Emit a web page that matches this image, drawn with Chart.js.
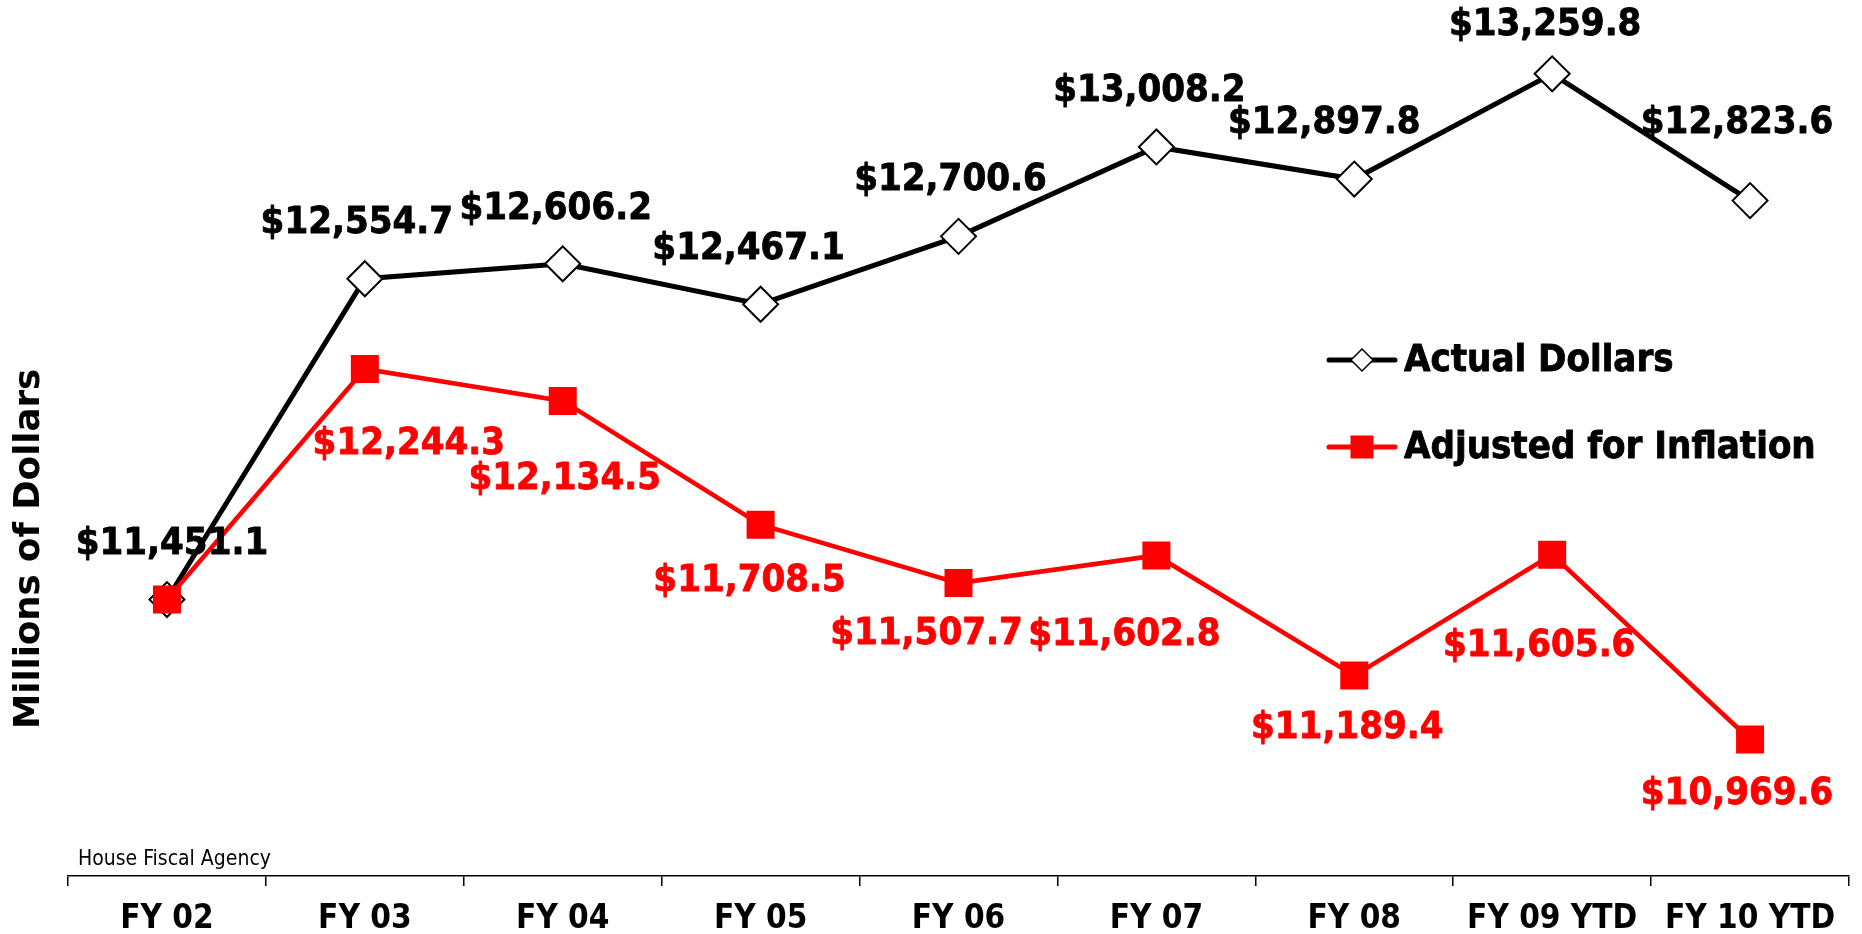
<!DOCTYPE html>
<html>
<head>
<meta charset="utf-8">
<title>General Fund Revenue</title>
<script src="https://cdn.jsdelivr.net/npm/chart.js@4.4.1/dist/chart.umd.min.js"></script>
<style>
  html, body { margin: 0; padding: 0; background: #ffffff; }
  #wrap { width: 1862px; height: 934px; }
</style>
</head>
<body>
<div id="wrap"><canvas id="chart" width="1862" height="934"></canvas></div>
<script>
// Fiscal years on the horizontal axis
const categories = ['FY 02', 'FY 03', 'FY 04', 'FY 05', 'FY 06', 'FY 07', 'FY 08', 'FY 09 YTD', 'FY 10 YTD'];

// Revenue, millions of dollars
const actualDollars = [11451.1, 12554.7, 12606.2, 12467.1, 12700.6, 13008.2, 12897.8, 13259.8, 12823.6];
const adjustedForInflation = [11451.1, 12244.3, 12134.5, 11708.5, 11507.7, 11602.8, 11189.4, 11605.6, 10969.6];

// Series names
const seriesNames = ['Actual Dollars', 'Adjusted for Inflation'];

// Value axis range
const yMin = 10500;
const yMax = 13500;

// Where each value label sits relative to its point (pixels); null = no label
const actualLabelOffsets = [[5, -55], [-8, -56], [-7, -55], [-12, -55], [-8, -56], [-7, -56], [-30, -56], [-7, -49], [-13, -77]];
const adjustedLabelOffsets = [null, [44, 75], [2, 78], [-11, 56], [-32, 51], [-32, 80], [-7, 53], [-13, 91], [-13, 55]];

const BOLD_COND = '"DejaVu Sans Condensed", "DejaVu Sans", sans-serif';
const BLACK = '#000000';
const RED = '#ff0000';

function money(v) {
  return '$' + v.toLocaleString('en-US', { minimumFractionDigits: 1, maximumFractionDigits: 1 });
}

// Value labels next to each marker
const valueLabels = {
  id: 'valueLabels',
  afterDatasetsDraw(chart) {
    const ctx = chart.ctx;
    const sets = [
      { index: 1, offsets: actualLabelOffsets, color: BLACK },
      { index: 0, offsets: adjustedLabelOffsets, color: RED }
    ];
    ctx.save();
    ctx.font = 'bold 38px ' + BOLD_COND;
    ctx.textAlign = 'center';
    ctx.textBaseline = 'middle';
    ctx.lineWidth = 0.8;
    ctx.lineJoin = 'round';
    sets.forEach(s => {
      const meta = chart.getDatasetMeta(s.index);
      const values = chart.data.datasets[s.index].data;
      meta.data.forEach((pt, i) => {
        const off = s.offsets[i];
        if (!off) return;
        ctx.fillStyle = s.color;
        ctx.strokeStyle = s.color;
        const txt = money(values[i]);
        ctx.fillText(txt, pt.x + off[0], pt.y + off[1]);
        ctx.strokeText(txt, pt.x + off[0], pt.y + off[1]);
      });
    });
    ctx.restore();
  }
};

// Legend, axis title and source note
const annotations = {
  id: 'annotations',
  afterDraw(chart) {
    const ctx = chart.ctx;
    ctx.save();

    // legend
    const rows = [
      { name: seriesNames[0], y: 360, color: BLACK, lw: 5, marker: 'diamond' },
      { name: seriesNames[1], y: 447, color: RED, lw: 5, marker: 'square' }
    ];
    rows.forEach(r => {
      ctx.strokeStyle = r.color;
      ctx.lineWidth = r.lw;
      ctx.lineCap = 'round';
      ctx.beginPath();
      ctx.moveTo(1329, r.y);
      ctx.lineTo(1395, r.y);
      ctx.stroke();
      const cx = 1362;
      if (r.marker === 'diamond') {
        const h = 11;
        ctx.beginPath();
        ctx.moveTo(cx, r.y - h);
        ctx.lineTo(cx + h, r.y);
        ctx.lineTo(cx, r.y + h);
        ctx.lineTo(cx - h, r.y);
        ctx.closePath();
        ctx.fillStyle = '#ffffff';
        ctx.fill();
        ctx.lineWidth = 1.5;
        ctx.strokeStyle = BLACK;
        ctx.stroke();
      } else {
        ctx.fillStyle = RED;
        ctx.fillRect(cx - 11.5, r.y - 11.5, 23, 23);
      }
      ctx.fillStyle = BLACK;
      ctx.strokeStyle = BLACK;
      ctx.lineWidth = 0.8;
      ctx.lineJoin = 'round';
      ctx.font = 'bold 38px ' + BOLD_COND;
      ctx.textAlign = 'left';
      ctx.textBaseline = 'middle';
      ctx.fillText(r.name, 1404, r.y + 1);
      ctx.strokeText(r.name, 1404, r.y + 1);
    });

    // vertical axis title
    ctx.save();
    ctx.translate(30, 549);
    ctx.rotate(-Math.PI / 2);
    ctx.font = 'bold 35.5px "DejaVu Sans", sans-serif';
    ctx.fillStyle = BLACK;
    ctx.textAlign = 'center';
    ctx.textBaseline = 'middle';
    ctx.fillText('Millions of Dollars', 0, 0);
    ctx.restore();

    // source note
    ctx.font = '21px "DejaVu Sans Condensed", "DejaVu Sans", sans-serif';
    ctx.fillStyle = BLACK;
    ctx.textAlign = 'left';
    ctx.textBaseline = 'alphabetic';
    ctx.fillText('House Fiscal Agency', 78, 865);

    ctx.restore();
  }
};

new Chart(document.getElementById('chart'), {
  type: 'line',
  data: {
    labels: categories,
    datasets: [
      {
        label: seriesNames[1],
        data: adjustedForInflation,
        order: 1,
        borderColor: RED,
        borderWidth: 4.5,
        tension: 0,
        pointStyle: 'rect',
        pointRadius: 19.8,
        pointBackgroundColor: RED,
        pointBorderColor: RED,
        pointBorderWidth: 0
      },
      {
        label: seriesNames[0],
        data: actualDollars,
        order: 2,
        borderColor: BLACK,
        borderWidth: 5,
        tension: 0,
        pointStyle: 'rectRot',
        pointRadius: 17.5,
        pointBackgroundColor: '#ffffff',
        pointBorderColor: BLACK,
        pointBorderWidth: 2
      }
    ]
  },
  options: {
    responsive: false,
    animation: false,
    devicePixelRatio: 1,
    layout: { autoPadding: false, padding: { left: 68, right: 13, top: 4, bottom: 0 } },
    plugins: {
      legend: { display: false },
      tooltip: { enabled: false }
    },
    scales: {
      x: {
        type: 'category',
        offset: true,
        afterFit(scale) { scale.height = 58; },
        grid: {
          offset: true,
          drawOnChartArea: false,
          drawTicks: true,
          tickLength: 10,
          color: BLACK,
          lineWidth: 1.5
        },
        border: { display: true, color: BLACK, width: 1.5 },
        ticks: {
          color: BLACK,
          padding: 14,
          maxRotation: 0,
          autoSkip: false,
          font: { family: BOLD_COND, size: 33, weight: 'bold', lineHeight: 1.2 }
        }
      },
      y: {
        display: false,
        min: yMin,
        max: yMax
      }
    }
  },
  plugins: [valueLabels, annotations]
});
</script>
</body>
</html>
